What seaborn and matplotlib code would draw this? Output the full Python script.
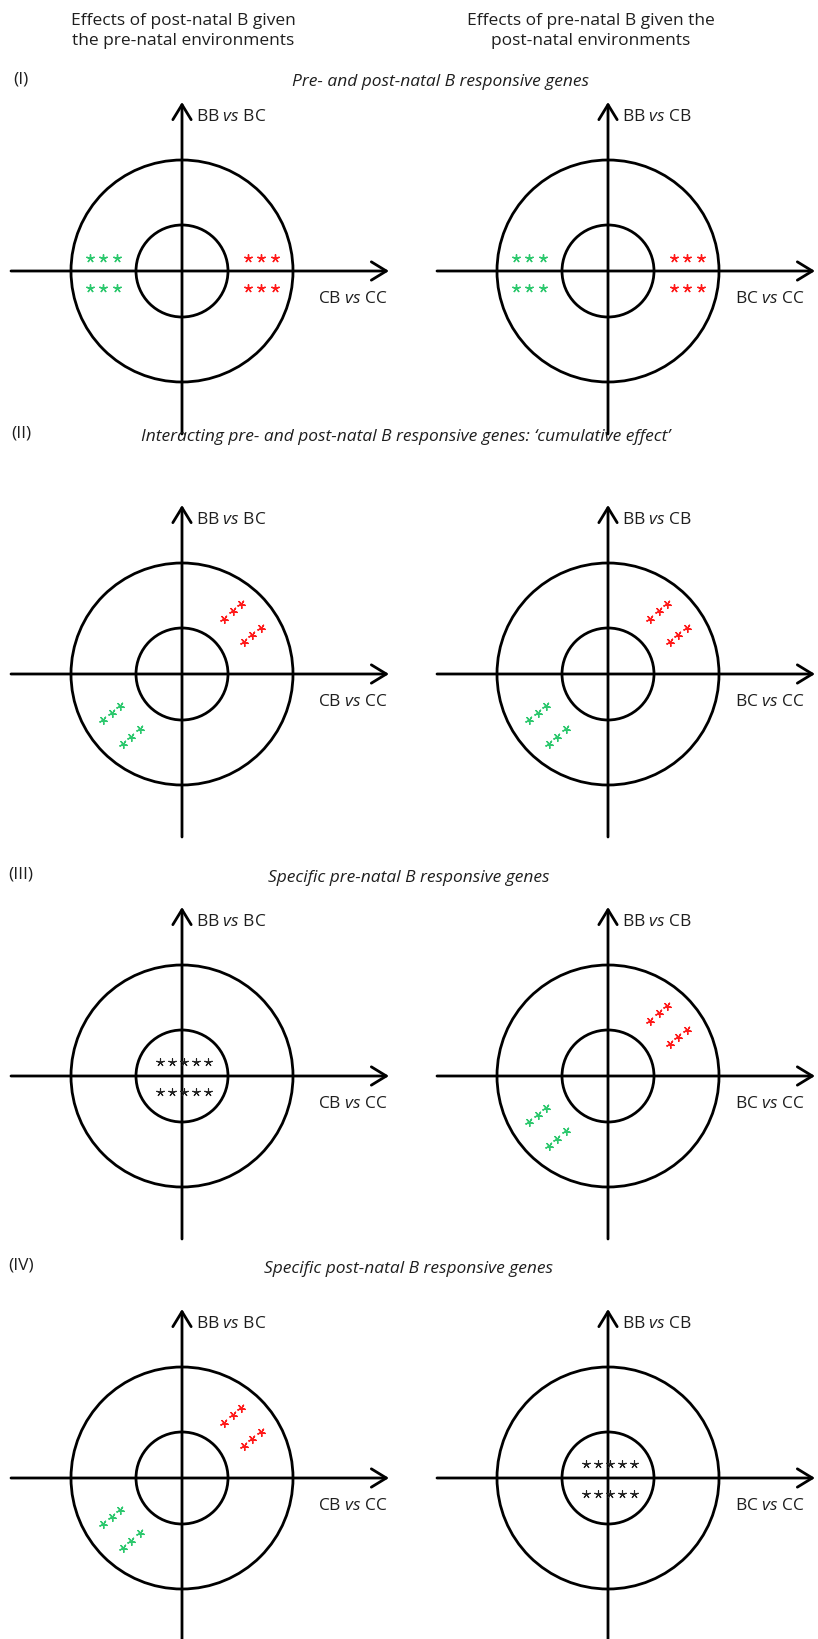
import numpy as np
import matplotlib
matplotlib.use("Agg")
import matplotlib.pyplot as plt
from matplotlib.patches import Circle
import seaborn as sns

# ─── Content ──────────────────────────────────────────────
COL_HEADERS = ["Effects of post-natal B given\nthe pre-natal environments",
               "Effects of pre-natal B given the\npost-natal environments"]
ROW_NUMERALS = ["(I)", "(II)", "(III)", "(IV)"]
ROW_TITLES = ["Pre- and post-natal B responsive genes",
              "Interacting pre- and post-natal B responsive genes: \u2018cumulative effect\u2019",
              "Specific pre-natal B responsive genes",
              "Specific post-natal B responsive genes"]
Y_LABELS = ["BB $vs$ BC", "BB $vs$ CB"]
X_LABELS = ["CB $vs$ CC", "BC $vs$ CC"]
# which star pattern each panel shows: rows I-IV, columns left/right
PATTERNS = [["split", "split"],
            ["diagonal", "diagonal"],
            ["centre", "diagonal"],
            ["diagonal", "centre"]]

GREEN = "#2DC86E"
RED = "#FF1A1A"
BLACK = "#222222"
TEXT = "#1E1E1E"

# ─── Layout (pixels) ──────────────────────────────────────
W, H = 818, 1640
COL_X = [182, 608]
ROW_Y = [272, 675, 1077, 1479]
TITLE_Y = [82, 437, 878, 1269]
TITLE_X = [440, 406, 409, 409]
XLAB_DX = [136, 127]
R_OUT, R_IN = 111, 46
LW = 2.0

sns.set_theme(style="white")
plt.rcParams["font.family"] = ["Open Sans", "DejaVu Sans"]
plt.rcParams["mathtext.fontset"] = "custom"
plt.rcParams["mathtext.rm"] = "Open Sans"
plt.rcParams["mathtext.it"] = "Open Sans:italic"
plt.rcParams["text.color"] = TEXT
FS = 12.5

fig = plt.figure(figsize=(W / 100, H / 100), dpi=100)
fig.patch.set_facecolor("white")


def px(x, y):
    return x / W, 1 - y / H


def panel_axes(cx, cy):
    left, right, down, up = 180, 215, 185, 180
    rect = [(cx - left) / W, (H - (cy + down)) / H, (left + right) / W, (up + down) / H]
    ax = fig.add_axes(rect)
    ax.set_xlim(-left, right)
    ax.set_ylim(-down, up)
    ax.axis("off")
    return ax


def star_row(n, centre, angle, spacing, perp):
    # n stars along direction `angle`, shifted `perp` across it
    a = np.deg2rad(angle)
    u = np.array([np.cos(a), np.sin(a)])
    v = np.array([-np.sin(a), np.cos(a)])
    k = np.arange(n) - (n - 1) / 2
    pts = np.asarray(centre) + np.outer(k * spacing, u) + perp * v
    return pts[:, 0], pts[:, 1]


def draw_stars(ax, pattern):
    groups = []
    if pattern == "split":
        for col, cx in [(GREEN, -79), (RED, 79)]:
            for off in (13, -17):
                groups.append((col, 3, (cx, 0), 0, 13.5, off))
    elif pattern == "diagonal":
        a = 40
        r = 79
        for col, ang in [(RED, a), (GREEN, a + 180)]:
            c = (r * np.cos(np.deg2rad(ang)), r * np.sin(np.deg2rad(ang)))
            for off in (15.5, -15.5):
                groups.append((col, 3, c, a, 11.5, off))
    elif pattern == "centre":
        for off in (14, -16):
            groups.append((BLACK, 5, (2, 0), 0, 12, off))
    for col, n, c, ang, sp, off in groups:
        xs, ys = star_row(n, c, ang, sp, off)
        lw = 0.8 if col == BLACK else 1.0
        sns.scatterplot(x=xs, y=ys, ax=ax, marker=(5, 2, ang), s=30,
                        color=col, linewidth=lw, legend=False, zorder=4)


def draw_panel(ax, ylab, xlab, xdx, pattern):
    ax.add_patch(Circle((0, 0), R_OUT, fill=False, lw=LW, ec="black"))
    ax.add_patch(Circle((0, 0), R_IN, fill=False, lw=LW, ec="black"))
    arrow = dict(arrowstyle="->,head_length=0.9,head_width=0.55", lw=LW,
                 color="black", shrinkA=0, shrinkB=0)
    ax.annotate("", xy=(207, 0), xytext=(-171, 0), arrowprops=arrow)
    ax.annotate("", xy=(0, 169), xytext=(0, -163), arrowprops=arrow)
    ax.text(14, 155, ylab, fontsize=FS, ha="left", va="center")
    ax.text(xdx, -27, xlab, fontsize=FS, ha="left", va="center")
    draw_stars(ax, pattern)


# headers
for cx, head in zip([183, 591], COL_HEADERS):
    fig.text(*px(cx, 31), head, fontsize=FS, ha="center", va="center",
             linespacing=1.3)

for i, cy in enumerate(ROW_Y):
    fig.text(*px(21, TITLE_Y[i] - 3), ROW_NUMERALS[i], fontsize=FS,
             ha="center", va="center")
    fig.text(*px(TITLE_X[i], TITLE_Y[i]), ROW_TITLES[i], fontsize=FS,
             style="italic", ha="center", va="center")
    for j, cx in enumerate(COL_X):
        ax = panel_axes(cx, cy)
        draw_panel(ax, Y_LABELS[j], X_LABELS[j], XLAB_DX[j], PATTERNS[i][j])

fig.savefig("out.png", dpi=100, facecolor="white")
